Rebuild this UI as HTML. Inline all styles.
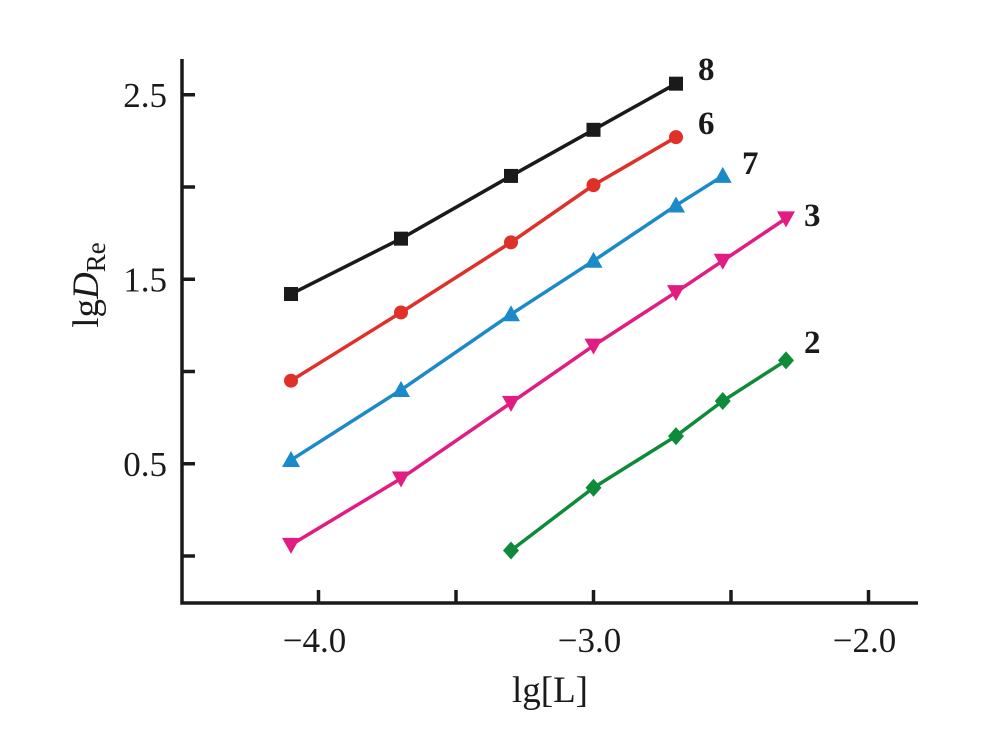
<!DOCTYPE html>
<html><head><meta charset="utf-8"><style>
body{margin:0;background:#fff}
svg{display:block;font-family:"Liberation Serif",serif}
</style></head><body>
<svg id="c" width="986" height="731" viewBox="0 0 986 731"></svg>
<script>
const xTicks=[-4.0,-3.5,-3.0,-2.5,-2.0];
const xTickLabels=["\u22124.0","","\u22123.0","","\u22122.0"];
const yTicks=[0.0,0.5,1.0,1.5,2.0,2.5];
const yTickLabels=["","0.5","","1.5","","2.5"];
const s8x=[-4.1,-3.7,-3.3,-3.0,-2.7], s8y=[1.42,1.72,2.06,2.31,2.56];
const s6x=[-4.1,-3.7,-3.3,-3.0,-2.7], s6y=[0.95,1.32,1.70,2.01,2.27];
const s7x=[-4.1,-3.7,-3.3,-3.0,-2.7,-2.53], s7y=[0.52,0.90,1.31,1.60,1.90,2.06];
const s3x=[-4.1,-3.7,-3.3,-3.0,-2.7,-2.53,-2.3], s3y=[0.06,0.42,0.83,1.14,1.43,1.60,1.83];
const s2x=[-3.3,-3.0,-2.7,-2.53,-2.3], s2y=[0.03,0.37,0.65,0.84,1.06];
const seriesNames=["8","6","7","3","2"];
const NS="http://www.w3.org/2000/svg";
const svg=document.getElementById('c');
const X=v=>181+(v+4.5)*275;
const Y=v=>556-v*184.5;
function el(t,a,p){const e=document.createElementNS(NS,t);for(const k in a)e.setAttribute(k,a[k]);(p||svg).appendChild(e);return e;}
const ax=el('path',{d:'M182,59 V603 H918',fill:'none',stroke:'#1a1a1a','stroke-width':3.5});


xTicks.forEach((t,i)=>{
 const l=el('line',{x1:X(t),x2:X(t),y1:603,y2:590,stroke:'#1a1a1a','stroke-width':3.5});
 
 
 if(xTickLabels[i]){const tx=el('text',{x:X(t)-4,y:652,'font-size':35,'text-anchor':'middle',fill:'#1a1a1a'});tx.textContent=xTickLabels[i];
 
 }
});
yTicks.forEach((t,i)=>{
 const l=el('line',{x1:182,x2:195,y1:Y(t),y2:Y(t),stroke:'#1a1a1a','stroke-width':3.5});
 
 
 if(yTickLabels[i]){const tx=el('text',{x:167,y:Y(t)+12,'font-size':35,'text-anchor':'end',fill:'#1a1a1a'});tx.textContent=yTickLabels[i];
 
 }
});
const xt=el('text',{x:550,y:702,'font-size':37,'text-anchor':'middle',fill:'#1a1a1a'});xt.textContent='lg[L]';


const yt=el('text',{transform:'translate(98,285) rotate(-90)','font-size':37,'text-anchor':'middle',fill:'#1a1a1a'});
yt.innerHTML='lg<tspan font-style="italic">D</tspan><tspan font-size="27" dy="7">Re</tspan>';


function marker(type,x,y,c,g){
 if(type=='sq')return el('rect',{x:x-7,y:y-7,width:14,height:14,fill:c},g);
 if(type=='ci')return el('circle',{cx:x,cy:y,r:7,fill:c},g);
 if(type=='tu')return el('polygon',{points:`${x},${y-9} ${x+9},${y+7} ${x-9},${y+7}`,fill:c},g);
 if(type=='td')return el('polygon',{points:`${x},${y+9} ${x+9},${y-7} ${x-9},${y-7}`,fill:c},g);
 return el('polygon',{points:`${x},${y-9} ${x+8},${y} ${x},${y+9} ${x-8},${y}`,fill:c},g);
}
const defs=[[s8x,s8y,'#1a1a1a','sq',[698,80]],[s6x,s6y,'#e0302a','ci',[698,134]],[s7x,s7y,'#1b8ac8','tu',[742,174]],[s3x,s3y,'#e11c82','td',[804,226]],[s2x,s2y,'#0e8b3a','di',[804,353]]];
defs.forEach((d,i)=>{
 const g=el('g',{});
 
 
 const pl=el('polyline',{points:d[0].map((x,j)=>X(x)+','+Y(d[1][j])).join(' '),fill:'none',stroke:d[2],'stroke-width':3.5},g);
 
 
 d[0].forEach((x,j)=>{const m=marker(d[3],X(x),Y(d[1][j]),d[2],g);
  
  });
 const lb=el('text',{x:d[4][0],y:d[4][1],'font-size':33,'font-weight':'bold',fill:'#1a1a1a'});lb.textContent=seriesNames[i];
 
 
});
</script>
</body></html>
